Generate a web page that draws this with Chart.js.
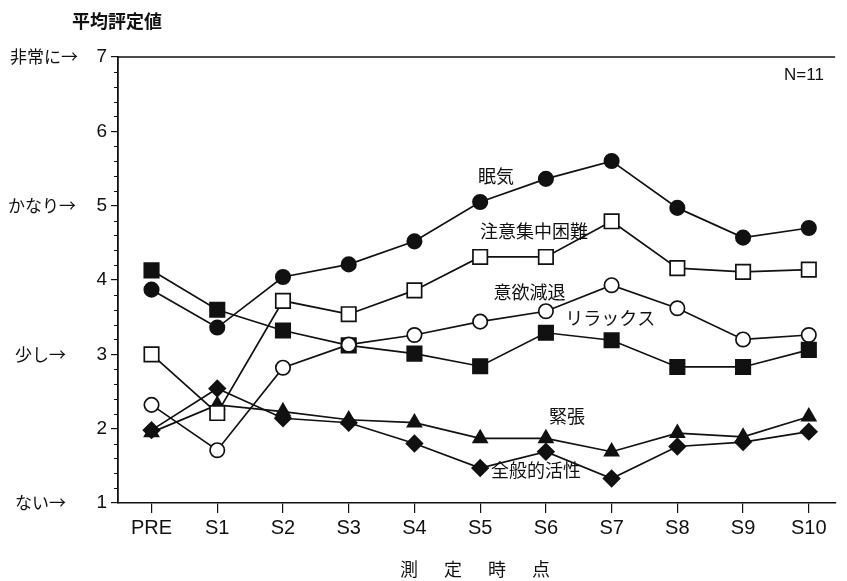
<!DOCTYPE html>
<html>
<head>
<meta charset="utf-8">
<script src="https://cdn.jsdelivr.net/npm/chart.js@4/dist/chart.umd.min.js"></script>
<style>
  html, body { margin: 0; padding: 0; background: #fff; }
  #wrap { width: 847px; height: 581px; position: relative; }
</style>
</head>
<body>
<div id="wrap"><canvas id="c" width="847" height="581"></canvas></div>
<script>
// 測定時点
const timepoints = ['PRE', 'S1', 'S2', 'S3', 'S4', 'S5', 'S6', 'S7', 'S8', 'S9', 'S10'];

// 各尺度の平均評定値
const sleepiness     = [3.87, 3.36, 4.04, 4.21, 4.52, 5.05, 5.36, 5.60, 4.97, 4.57, 4.70]; // 眠気
const concentration  = [3.00, 2.21, 3.72, 3.54, 3.86, 4.31, 4.31, 4.79, 4.16, 4.11, 4.14]; // 注意集中困難
const motivationLoss = [2.32, 1.71, 2.82, 3.13, 3.26, 3.44, 3.58, 3.93, 3.62, 3.20, 3.26]; // 意欲減退
const relaxation     = [4.13, 3.60, 3.32, 3.12, 3.01, 2.84, 3.29, 3.19, 2.83, 2.83, 3.06]; // リラックス
const tension        = [1.95, 2.32, 2.23, 2.12, 2.08, 1.87, 1.87, 1.69, 1.94, 1.89, 2.16]; // 緊張
const activity       = [1.98, 2.54, 2.14, 2.08, 1.80, 1.47, 1.69, 1.33, 1.76, 1.82, 1.96]; // 全般的活性

// 縦軸の目盛と程度の言葉
const yTickValues = [1, 2, 3, 4, 5, 6, 7];
const levelValues = [7, 5, 3, 1];
const levelWords  = ['非常に→', 'かなり→', '少し→', 'ない→'];

const seriesNames = ['眠気', '注意集中困難', '意欲減退', 'リラックス', '緊張', '全般的活性'];

// 系列名の書き込み位置（データ座標）
const notePlaces = [
  { x: 5.24, y: 5.40 },
  { x: 5.82, y: 4.66 },
  { x: 5.75, y: 3.84 },
  { x: 6.98, y: 3.49 },
  { x: 6.32, y: 2.17 },
  { x: 5.85, y: 1.44 }
];

const toPoints = arr => arr.map((v, i) => ({ x: i, y: v }));

const JP = '"Noto Sans CJK JP", "Noto Sans", sans-serif';
const LAT = '"Liberation Sans", Arial, sans-serif';
const INK = '#111';

function series(label, values, style, fill, radius, order) {
  return {
    label,
    data: toPoints(values),
    borderColor: INK,
    borderWidth: 1.7,
    tension: 0,
    pointStyle: style,
    pointRadius: radius,
    pointBorderWidth: 1.7,
    pointBorderColor: INK,
    pointBackgroundColor: fill,
    order
  };
}

const decor = {
  id: 'decor',
  afterDraw(chart) {
    const { ctx, chartArea: a, scales: { x, y } } = chart;
    ctx.save();
    ctx.strokeStyle = INK;
    ctx.fillStyle = INK;

    // 上枠線
    ctx.lineWidth = 1.6;
    ctx.beginPath();
    ctx.moveTo(a.left, a.top);
    ctx.lineTo(a.right, a.top);
    ctx.stroke();

    // 縦軸の小目盛（0.2刻み）
    ctx.lineWidth = 1;
    for (let k = 0; k <= 30; k++) {
      if (k % 5 === 0) continue;
      const py = Math.round(y.getPixelForValue(1 + k * 0.2)) + 0.5;
      ctx.beginPath();
      ctx.moveTo(a.left - 4, py);
      ctx.lineTo(a.left, py);
      ctx.stroke();
    }

    // 程度の言葉
    ctx.font = '17px ' + JP;
    ctx.textAlign = 'left';
    ctx.textBaseline = 'middle';
    const lefts = [10, 8, 15, 15];
    levelValues.forEach((v, i) => {
      ctx.fillText(levelWords[i], lefts[i], y.getPixelForValue(v));
    });

    // 縦軸タイトル
    ctx.font = 'bold 18px ' + JP;
    ctx.textAlign = 'left';
    ctx.fillText('平均評定値', 72, 21);

    // 系列名
    ctx.font = '18px ' + JP;
    ctx.textAlign = 'center';
    seriesNames.forEach((name, i) => {
      const p = notePlaces[i];
      ctx.fillText(name, x.getPixelForValue(p.x), y.getPixelForValue(p.y));
    });

    // 人数
    ctx.font = '17px ' + LAT;
    ctx.textAlign = 'center';
    ctx.fillText('N=11', 804, 75);

    // 横軸タイトル
    ctx.font = '18px ' + JP;
    const title = ['測', '定', '時', '点'];
    title.forEach((ch, i) => ctx.fillText(ch, 409 + i * 44, 569));

    ctx.restore();
  }
};

new Chart(document.getElementById('c'), {
  type: 'line',
  data: {
    datasets: [
      series('眠気', sleepiness, 'circle', INK, 7.2, 1),
      series('注意集中困難', concentration, 'rect', '#fff', 10.2, 2),
      series('意欲減退', motivationLoss, 'circle', '#fff', 7.2, 3),
      series('リラックス', relaxation, 'rect', INK, 10.2, 4),
      series('緊張', tension, 'triangle', INK, 8, 6),
      series('全般的活性', activity, 'rectRot', INK, 8, 5)
    ]
  },
  options: {
    responsive: false,
    animation: false,
    devicePixelRatio: 1,
    layout: { padding: { top: 57, right: 0, left: 0, bottom: 0 } },
    plugins: { legend: { display: false }, tooltip: { enabled: false } },
    scales: {
      x: {
        type: 'linear',
        min: -0.51,
        max: 10.40,
        afterBuildTicks: s => { s.ticks = timepoints.map((_, i) => ({ value: i })); },
        afterFit: s => { s.height = 78; },
        ticks: {
          autoSkip: false,
          maxRotation: 0,
          padding: 3,
          color: INK,
          font: { family: LAT, size: 20 },
          callback: v => timepoints[v] ?? ''
        },
        grid: { display: true, drawOnChartArea: false, tickLength: 10, color: INK, lineWidth: 1.2 },
        border: { display: true, color: INK, width: 1.6 }
      },
      y: {
        type: 'linear',
        min: 1,
        max: 7,
        afterBuildTicks: s => { s.ticks = yTickValues.map(v => ({ value: v })); },
        afterFit: s => { s.width = 118; },
        ticks: {
          autoSkip: false,
          padding: 4,
          color: INK,
          font: { family: LAT, size: 19 },
          callback: v => String(v)
        },
        grid: { display: true, drawOnChartArea: false, tickLength: 7, color: INK, lineWidth: 1.2 },
        border: { display: true, color: INK, width: 1.8 }
      }
    }
  },
  plugins: [decor]
});
</script>
</body>
</html>
